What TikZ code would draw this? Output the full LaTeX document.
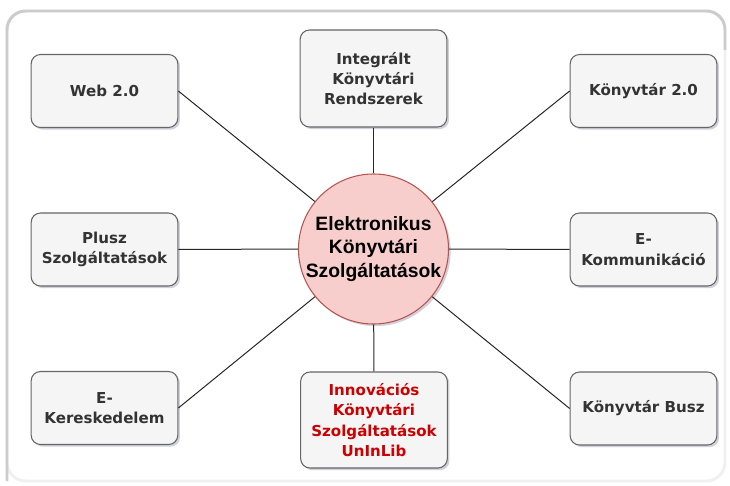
\documentclass[tikz,border=0pt]{standalone}
\usepackage{fontspec}
\usetikzlibrary{shadows}
\usepackage{xcolor}
\newfontfamily\boxfont{DejaVu Sans}
\newfontfamily\midfont{Liberation Sans}
\definecolor{boxfill}{HTML}{F5F5F5}
\definecolor{boxline}{HTML}{666666}
\definecolor{boxtext}{HTML}{333333}
\definecolor{redtext}{HTML}{CC0000}
\definecolor{circfill}{HTML}{F8CECC}
\definecolor{circline}{HTML}{B85450}
\definecolor{shadecol}{HTML}{9A9AB0}
\tikzset{
  shade box/.style={drop shadow={shadow xshift=1.6pt, shadow yshift=-1.6pt, opacity=0.45, fill=shadecol}},
  topic/.style={shade box, draw=boxline, fill=boxfill, line width=0.8pt, rounded corners=7pt,
    minimum width=110pt, minimum height=54.75pt, inner sep=2pt, align=center,
    text=boxtext, font=\boxfont\bfseries\fontsize{11.3}{15.2}\selectfont},
  hub/.style={shade box, circle, draw=circline, fill=circfill, line width=0.8pt,
    minimum size=110.25pt, inner sep=0pt, align=center,
    font=\midfont\bfseries\fontsize{14.5}{17.6}\selectfont},
  link/.style={draw=black!85, line width=0.75pt}
}
\begin{document}
\begin{tikzpicture}[x=0.75pt,y=0.75pt,yscale=-1,xscale=1]
\useasboundingbox (0,0) rectangle (730,485);

%Frame
\draw [gray!12, line width=2.2pt, rounded corners=14pt] (7,11) rectangle (725,481) ;
\draw [gray!40, line width=2.2pt, rounded corners=14pt] (7,481) -- (7,11) -- (725,11) -- (725,50) ;

%Hub
\node [hub] (eks) at (373.5,249) {Elektronikus\\Könyvtári\\Szolgáltatások};

%Topics
\node [topic] (web) at (104.5,91) {Web 2.0};
\node [topic, minimum height=72.75pt] (iks) at (373.5,78.5) {Integrált\\Könyvtári\\Rendszerek};
\node [topic] (konyv) at (643.5,91) {Könyvtár 2.0};
\node [topic] (plusz) at (104.5,249.5) {Plusz\\Szolgáltatások};
\node [topic] (ekomm) at (643.5,249.5) {E-\\Kommunikáció};
\node [topic] (ekeres) at (104.5,408) {E-\\Kereskedelem};
\node [topic, minimum height=72pt, text=redtext] (innov) at (374,420) {Innovációs\\Könyvtári\\Szolgáltatások\\UnInLib};
\node [topic] (busz) at (643.5,408.5) {Könyvtár Busz};

%Links
\draw [link] (web.east) -- (eks) ;
\draw [link] (iks) -- (eks) ;
\draw [link] (konyv.west) -- (eks) ;
\draw [link] (plusz) -- (eks) ;
\draw [link] (ekomm) -- (eks) ;
\draw [link] (ekeres.east) -- (eks) ;
\draw [link] (innov) -- (eks) ;
\draw [link] (busz.west) -- (eks) ;

\end{tikzpicture}
\end{document}
